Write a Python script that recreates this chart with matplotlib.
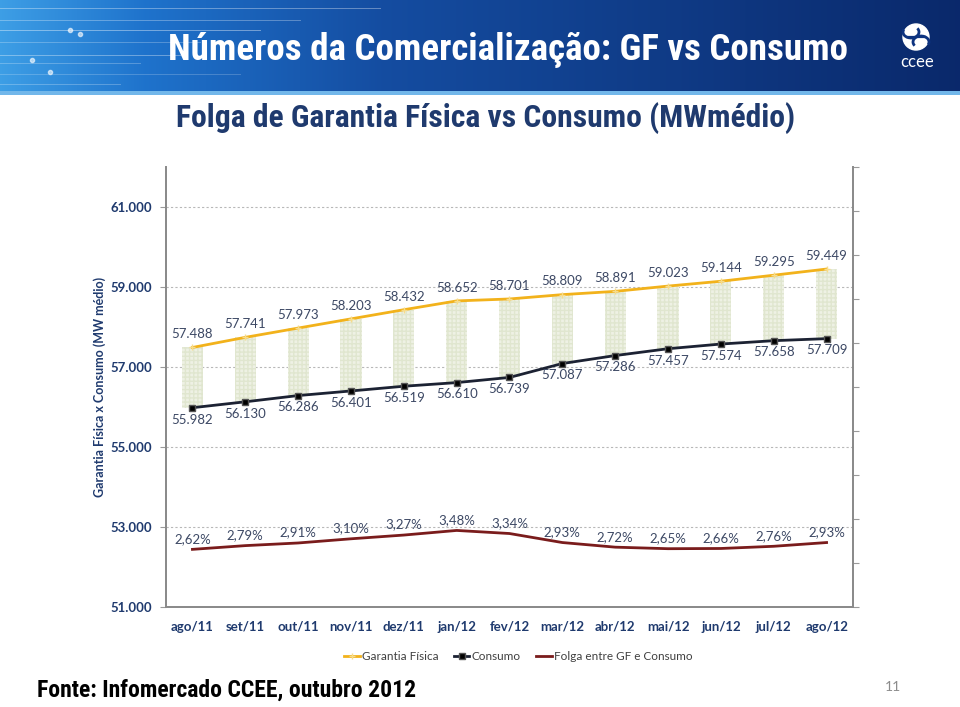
import numpy as np
import matplotlib.pyplot as plt
from matplotlib import font_manager as fm
from matplotlib.font_manager import FontProperties
from matplotlib.patches import Arc, Circle
from matplotlib.ticker import FuncFormatter

# dados (MWmédio)
meses = ['ago/11', 'set/11', 'out/11', 'nov/11', 'dez/11', 'jan/12', 'fev/12',
         'mar/12', 'abr/12', 'mai/12', 'jun/12', 'jul/12', 'ago/12']
garantia = [57488, 57741, 57973, 58203, 58432, 58652, 58701, 58809, 58891, 59023, 59144, 59295, 59449]
consumo = [55982, 56130, 56286, 56401, 56519, 56610, 56739, 57087, 57286, 57457, 57574, 57658, 57709]
folga = [2.62, 2.79, 2.91, 3.10, 3.27, 3.48, 3.34, 2.93, 2.72, 2.65, 2.66, 2.76, 2.93]

calib = ['Lato', 'DejaVu Sans']
azul = '#1f3a6e'
cinza_lab = '#3c4864'


# procura uma fonte estreita em negrito (tipo Arial Narrow)
def acha_estreita():
    fontes = fm.fontManager.ttflist
    negrito = lambda f: f.weight in ('bold', 700, 'Bold')
    for nome in ['Liberation Sans Narrow', 'Roboto Condensed', 'Noto Sans Condensed', 'DejaVu Sans Condensed']:
        for f in fontes:
            if f.name == nome and negrito(f):
                return f.fname
    for est in ['condensed', 'semi-condensed']:
        for f in fontes:
            if f.stretch == est and negrito(f) and f.style == 'normal':
                return f.fname
    return None


arq = acha_estreita()
if arq:
    fp_titulo = FontProperties(fname=arq)
else:
    fp_titulo = FontProperties(family=['Liberation Sans', 'DejaVu Sans'], weight='bold')

fig = plt.figure(figsize=(9.6, 7.07), dpi=100)
rend = fig.canvas.get_renderer()


def ajusta(t, largura, maximo):
    w = t.get_window_extent(renderer=rend).width
    t.set_fontsize(min(maximo, t.get_fontsize() * largura / w))


# faixa azul do topo
ban = fig.add_axes([0, 1 - 95 / 707, 1, 95 / 707])
xs = np.linspace(0, 1, 400)
stops = [0, 0.15, 0.40, 1.0]
cols = np.array([[0.24, 0.62, 0.90], [0.12, 0.45, 0.80], [0.08, 0.30, 0.63], [0.04, 0.16, 0.42]])
grad = np.stack([np.interp(xs, stops, cols[:, k]) for k in range(3)], axis=-1)
img = np.repeat(grad[None, :, :], 95, axis=0)
img[91:, :, :] = [0.45, 0.72, 0.92]
ban.imshow(img, extent=[0, 960, 95, 0], aspect='auto')
for y, x1, a in [(8, 380, 0.35), (20, 300, 0.3), (30, 260, 0.4), (42, 200, 0.25),
                 (55, 180, 0.35), (63, 140, 0.25), (74, 240, 0.2), (84, 120, 0.25)]:
    ban.plot([0, x1], [y, y], color='white', lw=0.7, alpha=a)
for xp, yp in [(70, 30), (80, 34), (32, 60), (50, 72)]:
    ban.plot(xp, yp, 'o', color='white', ms=3, alpha=0.6)
ban.set_xlim(0, 960)
ban.set_ylim(95, 0)
ban.axis('off')
tit = ban.text(168, 50, 'Números da Comercialização: GF vs Consumo', color='white',
               fontsize=26, fontproperties=fp_titulo, va='center', ha='left')
tit.set_fontsize(26)
ajusta(tit, 680, 27)
# logo ccee
ban.add_patch(Circle((916, 37), 13, color='white'))
azul_esc = (0.05, 0.20, 0.50)
ban.add_patch(Arc((911, 32), 16, 12, theta1=-30, theta2=200, color=azul_esc, lw=2))
ban.add_patch(Arc((921, 42), 16, 12, theta1=150, theta2=380, color=azul_esc, lw=2))
ban.plot([907, 925], [37, 37], color=azul_esc, lw=1.6)
ban.text(917, 62, 'ccee', color='white', fontsize=12, family=calib, ha='center', va='center')

sub = fig.text(176 / 960, 1 - 118 / 707, 'Folga de Garantia Física vs Consumo (MWmédio)', color=azul,
               fontproperties=fp_titulo, va='center', ha='left')
sub.set_fontsize(22)
ajusta(sub, 619, 23)
fonte = fig.text(37 / 960, 1 - 690 / 707, 'Fonte: Infomercado CCEE, outubro 2012', color='black',
                 fontproperties=fp_titulo, va='center', ha='left')
fonte.set_fontsize(16)
ajusta(fonte, 378, 17)
fig.text(893 / 960, 1 - 687 / 707, '11', color='#8c8c8c', fontsize=10, family=calib, va='center', ha='center')

# gráfico
ax = fig.add_axes([166 / 960, 1 - 607 / 707, 687 / 960, 440 / 707])
x = np.arange(len(meses))
dif = [g - c for g, c in zip(garantia, consumo)]
ax.bar(x, dif, bottom=consumo, width=0.4, color='#eef1e4', edgecolor='#e0e6cf', hatch='++++',
       linewidth=0, zorder=1)
ax.plot(x, garantia, color='#f2b21b', lw=2, marker='+', ms=5, mec='#f7dc8a', zorder=3,
        label='Garantia Física')
ax.plot(x, consumo, color='#1c2233', lw=2, marker='s', ms=4, mfc='black', mec='#555555', zorder=3,
        label='Consumo')

fmt = lambda v: f'{v:,.0f}'.replace(',', '.')
for i in x:
    ax.annotate(fmt(garantia[i]), (i, garantia[i]), xytext=(0, 9.5), textcoords='offset points',
                ha='center', va='center', fontsize=9.5, color=cinza_lab, family=calib)
    ax.annotate(fmt(consumo[i]), (i, consumo[i]), xytext=(0, -8.5), textcoords='offset points',
                ha='center', va='center', fontsize=9.5, color=cinza_lab, family=calib)

ax.set_xlim(-0.5, len(meses) - 0.5)
ax.set_ylim(51000, 62000)
ax.set_yticks(np.arange(51000, 61001, 2000))
ax.yaxis.set_major_formatter(FuncFormatter(lambda v, p: fmt(v)))
ax.set_xticks(x)
ax.set_xticklabels(meses)
for yv in range(53000, 61001, 2000):
    ax.axhline(yv, color='#b8b8b8', lw=0.8, ls=(0, (2, 2)), zorder=0)
ax.tick_params(axis='x', length=0, pad=10, labelsize=9.5, labelcolor=azul)
ax.tick_params(axis='y', length=4, color='#9a9a9a', pad=6, labelsize=9.5, labelcolor=azul)
for lab in ax.get_xticklabels() + ax.get_yticklabels():
    lab.set_fontweight('bold')
    lab.set_family(calib)
ax.set_ylabel('Garantia Física x Consumo (MW médio)', fontsize=9, fontweight='bold', color=azul,
              family=calib)
ax.yaxis.set_label_coords(-0.087, 0.5)
ax.spines['top'].set_visible(False)
for s in ['left', 'bottom', 'right']:
    ax.spines[s].set_color('#8a8a8a')
    ax.spines[s].set_linewidth(1.3)

ax2 = ax.twinx()
ax2.plot(x, [p / 100 for p in folga], color='#7a1c1c', lw=2, zorder=3, label='Folga entre GF e Consumo')
for i in x:
    ax2.annotate(f'{folga[i]:.2f}%'.replace('.', ','), (i, folga[i] / 100), xytext=(0, 7.5),
                 textcoords='offset points', ha='center', va='center', fontsize=9.5,
                 color=cinza_lab, family=calib)
ax2.set_ylim(0, 0.20)
ax2.set_yticks(np.arange(0, 0.201, 0.02))
ax2.set_yticklabels([])
ax2.tick_params(axis='y', length=4, color='#9a9a9a')
ax2.spines['top'].set_visible(False)
for s in ['left', 'bottom', 'right']:
    ax2.spines[s].set_color('#8a8a8a')
    ax2.spines[s].set_linewidth(1.3)

h1, l1 = ax.get_legend_handles_labels()
h2, l2 = ax2.get_legend_handles_labels()
leg = fig.legend(h1 + h2, l1 + l2, loc='center', bbox_to_anchor=(0.54, 1 - 657 / 707), ncol=3,
                 frameon=False, handlelength=1.3, handletextpad=0.2, columnspacing=1.3,
                 prop={'family': calib, 'size': 8.5})
for t in leg.get_texts():
    t.set_color('#404040')

fig.savefig('out.png', dpi=100)
